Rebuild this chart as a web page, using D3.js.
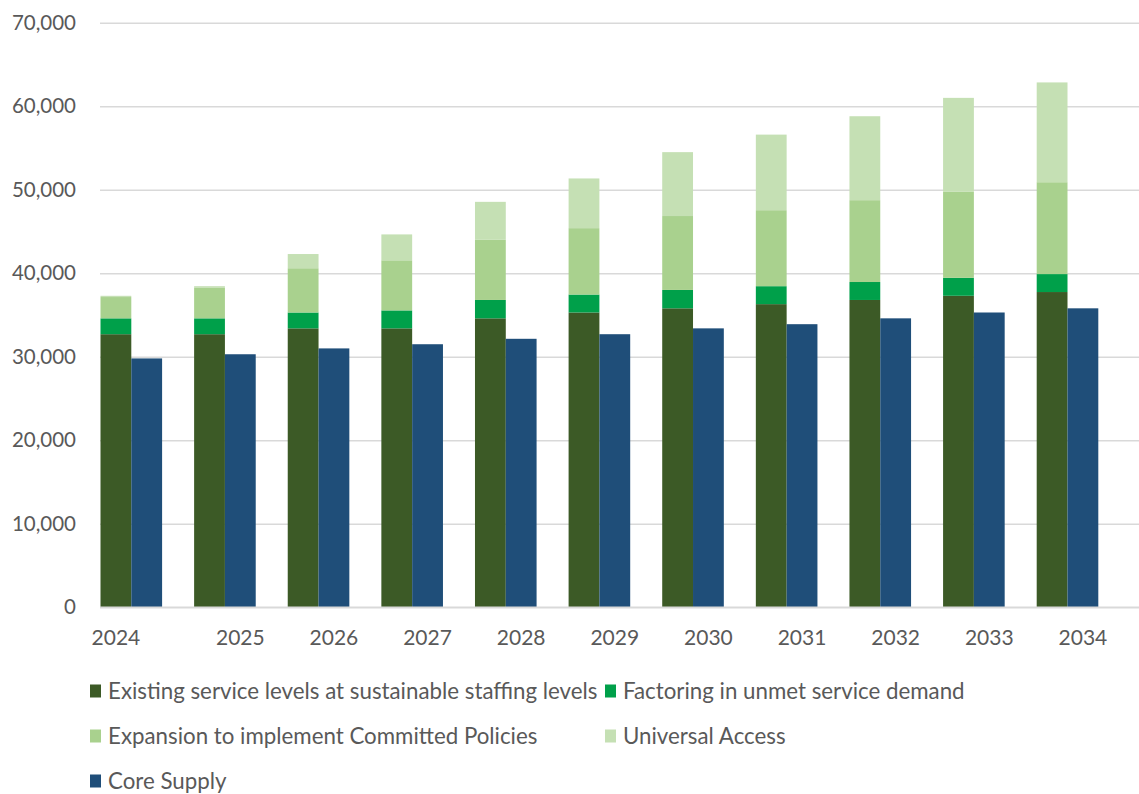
<!DOCTYPE html>
<html>
<head>
<meta charset="utf-8">
<script src="https://cdn.jsdelivr.net/npm/d3@7"></script>
<style>
  html, body { margin: 0; padding: 0; background: #fff; }
  svg { display: block; font-family: Lato, "Open Sans", sans-serif; }
</style>
</head>
<body>
<svg id="chart" width="1139" height="794"></svg>
<script>
// ---- data ----
const years = ["2024","2025","2026","2027","2028","2029","2030","2031","2032","2033","2034"];
const existing   = [32700, 32700, 33400, 33400, 34600, 35300, 35800, 36300, 36800, 37300, 37750];
const factoring  = [1900, 1900, 1900, 2150, 2200, 2150, 2200, 2150, 2150, 2150, 2150];
const expansion  = [2550, 3700, 5300, 6000, 7200, 7950, 8850, 9100, 9800, 10300, 11000];
const universal  = [150, 150, 1700, 3100, 4550, 5950, 7650, 9050, 10050, 11250, 11950];
const coreSupply = [29800, 30300, 31000, 31500, 32150, 32700, 33400, 33900, 34600, 35300, 35800];
const yTicks = [0, 10000, 20000, 30000, 40000, 50000, 60000, 70000];
const stackSeries = [
  {key: "existing",  name: "Existing service levels at sustainable staffing levels", values: existing},
  {key: "factoring", name: "Factoring in unmet service demand", values: factoring},
  {key: "expansion", name: "Expansion to implement Committed Policies", values: expansion},
  {key: "universal", name: "Universal Access", values: universal}
];
const supplySeries = {key: "supply", name: "Core Supply", values: coreSupply};
const colors = {
  existing: "#3C5A26",
  factoring: "#00A04A",
  expansion: "#A9D18E",
  universal: "#C5E0B4",
  supply: "#1F4E79"
};

// ---- layout ----
const svg = d3.select("#chart");
const plotLeft = 100, plotRight = 1139, plotTop = 22.7, plotBottom = 607.3;
const textColor = "#595959";

const y = d3.scaleLinear().domain([0, 70000]).range([plotBottom, plotTop]);
const x0 = d3.scaleBand().domain(years).range([100.5, 1098.3]).paddingInner(0.342).paddingOuter(0);
const x1 = d3.scaleBand().domain(["demand", "supply"]).range([0, x0.bandwidth()]).padding(0);

// gridlines + y labels
const yAxis = d3.axisLeft(y).tickValues(yTicks)
  .tickFormat(d3.format(","))
  .tickSize(-(plotRight - plotLeft))
  .tickPadding(24);
const gy = svg.append("g").attr("transform", `translate(${plotLeft},0)`).call(yAxis);
gy.select(".domain").remove();
gy.selectAll(".tick line").attr("stroke", "#d9d9d9").attr("stroke-width", 1.6);
gy.selectAll(".tick text").attr("fill", textColor).attr("font-size", 20.5)
  .attr("font-family", "Lato, 'Open Sans', sans-serif");

// stacked demand bars
const rows = years.map((yr, i) => {
  const r = {year: yr};
  stackSeries.forEach(s => r[s.key] = s.values[i]);
  return r;
});
const stacked = d3.stack().keys(stackSeries.map(s => s.key))(rows);

const gBars = svg.append("g");
stacked.forEach(layer => {
  gBars.append("g").attr("fill", colors[layer.key])
    .selectAll("rect").data(layer).join("rect")
    .attr("x", d => x0(d.data.year) + x1("demand"))
    .attr("width", x1.bandwidth())
    .attr("y", d => y(d[1]))
    .attr("height", d => y(d[0]) - y(d[1]));
});

// core supply bars
gBars.append("g").attr("fill", colors.supply)
  .selectAll("rect").data(years.map((yr, i) => ({year: yr, v: supplySeries.values[i]}))).join("rect")
  .attr("x", d => x0(d.year) + x1("supply"))
  .attr("width", x1.bandwidth())
  .attr("y", d => y(d.v))
  .attr("height", d => y(0) - y(d.v));

// baseline
svg.append("line").attr("x1", plotLeft).attr("x2", plotRight)
  .attr("y1", y(0)).attr("y2", y(0))
  .attr("stroke", "#d9d9d9").attr("stroke-width", 1.6);

// x labels (first over demand bar, rest over supply bar as in source)
svg.append("g").selectAll("text").data(years).join("text")
  .attr("x", (d, i) => x0(d) + x1(i === 0 ? "demand" : "supply") + x1.bandwidth() / 2)
  .attr("y", 645)
  .attr("text-anchor", "middle")
  .attr("fill", textColor)
  .attr("font-size", 21)
  .text(d => d);

// legend
const legendItems = [
  {key: "existing",  name: stackSeries[0].name, col: 0, row: 0},
  {key: "factoring", name: stackSeries[1].name, col: 1, row: 0},
  {key: "expansion", name: stackSeries[2].name, col: 0, row: 1},
  {key: "universal", name: stackSeries[3].name, col: 1, row: 1},
  {key: "supply",    name: supplySeries.name,   col: 0, row: 2}
];
const colX = [90, 605];
const rowY = [691, 736, 781];
const lg = svg.append("g").selectAll("g").data(legendItems).join("g")
  .attr("transform", d => `translate(${colX[d.col]},${rowY[d.row]})`);
lg.append("rect").attr("x", 0).attr("y", -6.5).attr("width", 11).attr("height", 13)
  .attr("fill", d => colors[d.key]);
lg.append("text").attr("x", 18).attr("y", 7.5)
  .attr("fill", textColor).attr("font-size", 22.3)
  .text(d => d.name);
</script>
</body>
</html>
